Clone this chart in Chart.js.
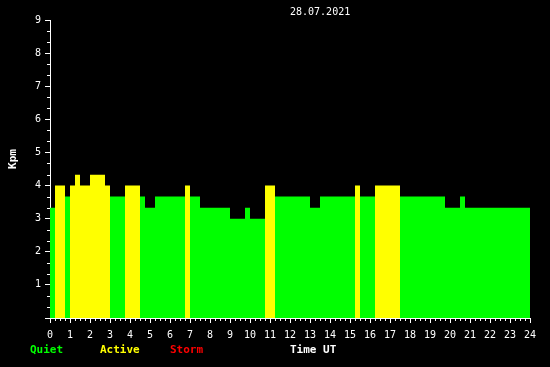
<!DOCTYPE html>
<html>
<head>
<meta charset="utf-8">
<script src="https://cdn.jsdelivr.net/npm/chart.js@4/dist/chart.umd.min.js"></script>
<style>
  html, body { margin: 0; padding: 0; background: #000; }
  #wrap { width: 550px; height: 367px; }
</style>
</head>
<body>
<div id="wrap"><canvas id="kp" width="550" height="367"></canvas></div>
<script>
// Kpm, 15 min resolution: each value holds from its start hour until the next start
const stepStart = [0, 0.25, 0.75, 1, 1.25, 1.5, 2, 2.75, 3, 3.75, 4.5, 4.75, 5.25, 6.75, 7, 7.5,
                   9, 9.75, 10, 10.75, 11.25, 13, 13.5, 15.25, 15.5, 16.25, 17.5, 19.75, 20.5, 20.75, 24];
const stepKp = [3.33, 4, 3.67, 4, 4.33, 4, 4.33, 4, 3.67, 4, 3.67, 3.33, 3.67, 4, 3.67, 3.33,
                3, 3.33, 3, 4, 3.67, 3.33, 3.67, 4, 3.67, 4, 3.67, 3.33, 3.67, 3.33];

const dateLabel = '28.07.2021';
const levelNames = ['Quiet', 'Active', 'Storm'];
const levelColors = ['#00ff00', '#ffff00', '#ff0000'];
const levelFrom = [0, 4, 5];

const MONO = '"DejaVu Sans Mono", "Liberation Mono", monospace';

function kpColor(v) {
  let c = levelColors[0];
  levelFrom.forEach((f, i) => { if (v >= f) c = levelColors[i]; });
  return c;
}

const points = stepStart.map((x, i) => ({ x: x, y: stepKp[Math.min(i, stepKp.length - 1)] }));

// minor ticks + texts
const decor = {
  id: 'decor',
  afterDraw(chart) {
    const ctx = chart.ctx;
    const xs = chart.scales.x, ys = chart.scales.y;
    const area = chart.chartArea;
    ctx.save();
    ctx.strokeStyle = '#fff';
    ctx.lineWidth = 1;
    ctx.beginPath();
    for (let q = 1; q < 96; q++) {
      if (q % 4 === 0) continue;
      const px = Math.round(xs.getPixelForValue(q / 4)) + 0.5;
      ctx.moveTo(px, area.bottom);
      ctx.lineTo(px, area.bottom + 3);
    }
    for (let t = 1; t < 27; t++) {
      if (t % 3 === 0) continue;
      const py = Math.round(ys.getPixelForValue(t / 3)) + 0.5;
      ctx.moveTo(area.left - 3, py);
      ctx.lineTo(area.left, py);
    }
    ctx.stroke();

    ctx.textBaseline = 'middle';
    ctx.textAlign = 'left';
    ctx.fillStyle = '#fff';
    ctx.font = '10px ' + MONO;
    ctx.fillText(dateLabel, 290, 12);

    ctx.font = 'bold 11px ' + MONO;
    levelNames.forEach((n, i) => {
      ctx.fillStyle = levelColors[i];
      ctx.fillText(n, 30 + i * 70, 350);
    });
    ctx.fillStyle = '#fff';
    ctx.fillText('Time UT', 290, 350);

    ctx.translate(13, 159);
    ctx.rotate(-Math.PI / 2);
    ctx.textAlign = 'center';
    ctx.fillText('Kpm', 0, 0);
    ctx.restore();
  }
};

new Chart(document.getElementById('kp'), {
  type: 'line',
  data: {
    datasets: [{
      data: points,
      stepped: true,
      fill: 'origin',
      borderWidth: 0,
      borderColor: 'rgba(0,0,0,0)',
      pointRadius: 0,
      backgroundColor: levelColors[0],
      segment: {
        backgroundColor: c => kpColor(c.p0.parsed.y)
      }
    }]
  },
  options: {
    responsive: false,
    animation: false,
    devicePixelRatio: 1,
    layout: { padding: { top: 20, right: 20, left: 0, bottom: 0 } },
    plugins: { legend: { display: false }, tooltip: { enabled: false } },
    scales: {
      x: {
        type: 'linear', min: 0, max: 24,
        afterFit: s => { s.height = 49; },
        ticks: { stepSize: 1, color: '#fff', font: { family: MONO, size: 10 }, padding: 6, maxRotation: 0, autoSkip: false },
        grid: { drawOnChartArea: false, color: '#fff', tickColor: '#fff', tickLength: 5 },
        border: { color: '#fff' }
      },
      y: {
        min: 0, max: 9,
        afterFit: s => { s.width = 50; },
        ticks: { stepSize: 1, color: '#fff', font: { family: MONO, size: 10 }, padding: 4,
                 callback: v => (v === 0 ? '' : v) },
        grid: { drawOnChartArea: false, color: '#fff', tickColor: '#fff', tickLength: 5 },
        border: { color: '#fff' }
      }
    }
  },
  plugins: [decor]
});
</script>
</body>
</html>
